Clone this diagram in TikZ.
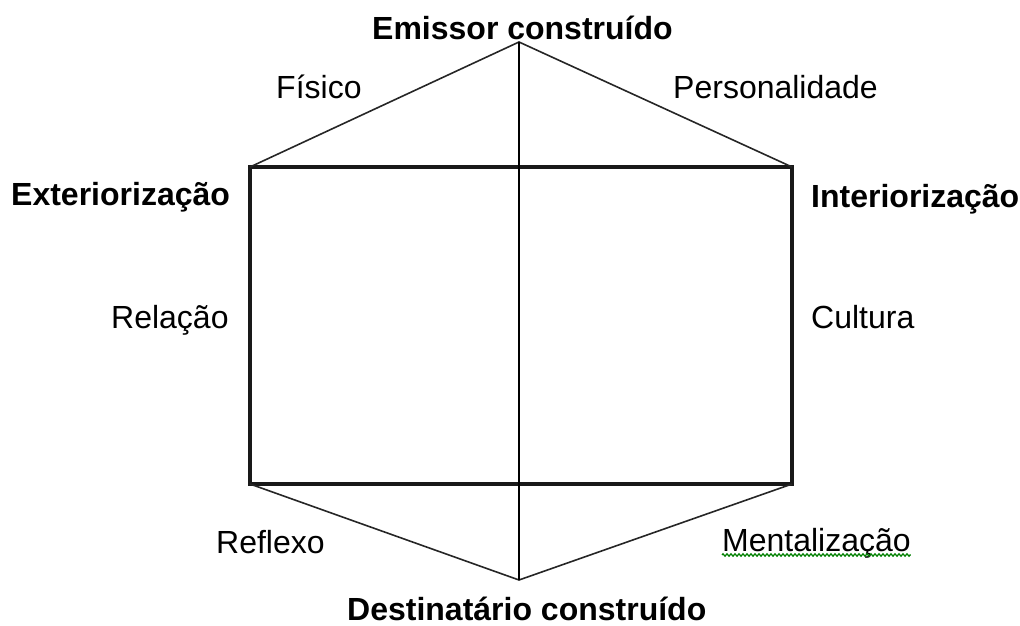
\documentclass[tikz,border=0pt]{standalone}
\usepackage{fontspec}
\setmainfont{Liberation Sans}
\usetikzlibrary{decorations.pathmorphing}

\begin{document}
\begin{tikzpicture} [x=1pt, y=-1pt,
				label/.style={
				% The position:
				anchor=base west,
				inner sep=0pt,
				% Font
				font=\fontsize{32}{36}\selectfont
    				},
				title/.style={
				% The position:
				anchor=base west,
				inner sep=0pt,
				% Font
				font=\fontsize{32}{36}\selectfont\bfseries
    				},
				frame/.style={
				% The border:
				line width=3.2pt, draw=black!90
    				},
				edge/.style={
				% The border:
				line width=1.6pt, draw=black!85
    				},
				axis/.style={
				% The border:
				line width=2.4pt, draw=black
    				},
				]
    \useasboundingbox (0,0) rectangle (1020,626);
    % corners of the figure
    \coordinate (top) at (519,42);
    \coordinate (bot) at (519,580);
    \coordinate (tl) at (250,167);
    \coordinate (tr) at (792,167);
    \coordinate (bl) at (250,484);
    \coordinate (br) at (792,484);
    % the hexagon
    \draw [frame] (tl) rectangle (br);
    \draw [edge] (tl) -- (top) -- (tr);
    \draw [edge] (bl) -- (bot) -- (br);
    \draw [axis] (top) -- (bot);
    % labels
    \node [title] (emissor) at (372,40) {Emissor construído};
    \node [title] (destin) at (347,620) {Destinatário construído};
    \node [title] (exter) at (11,205) {Exteriorização};
    \node [title] (inter) at (811,207) {Interiorização};
    \node [label] (fisico) at (276,98) {Físico};
    \node [label] (person) at (673,98) {Personalidade};
    \node [label] (relacao) at (111,328) {Relação};
    \node [label] (cultura) at (811,328) {Cultura};
    \node [label] (reflexo) at (216,553) {Reflexo};
    \node [label] (mental) at (722,551) {Mentalização};
    \draw [green!50!black, line width=1.2pt, decorate,
           decoration={zigzag, amplitude=1.2pt, segment length=4pt}]
        ([yshift=-4pt]mental.base west) -- ([yshift=-4pt]mental.base east);
\end{tikzpicture}
\end{document}
